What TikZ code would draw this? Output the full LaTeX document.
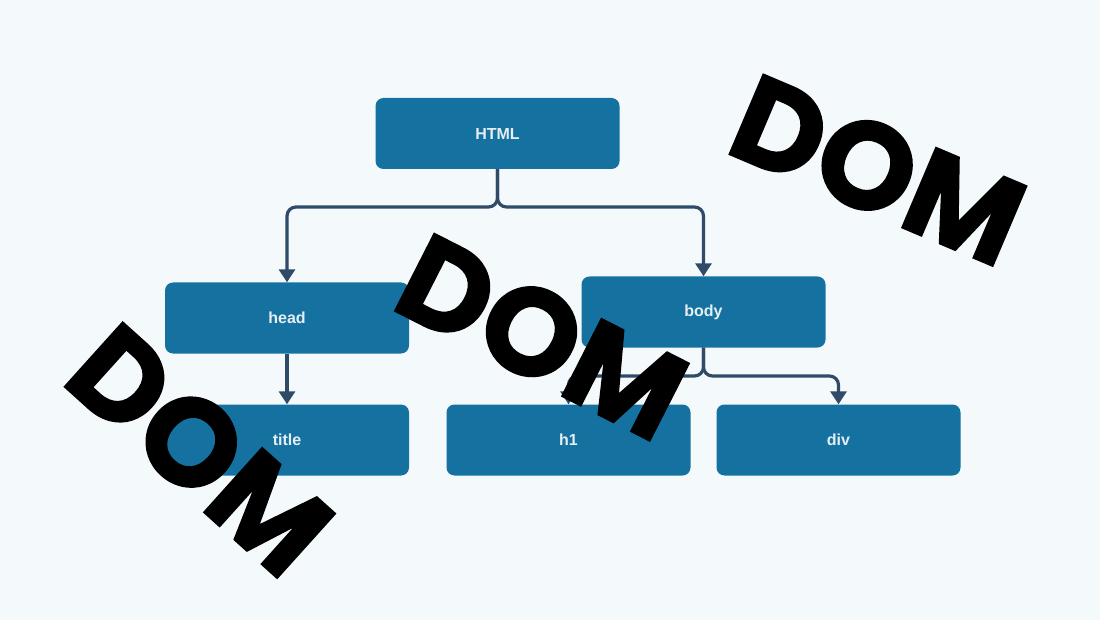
\documentclass[tikz,border=0pt]{standalone}
\usepackage{fontspec}
\setmainfont{Liberation Sans}
\newfontfamily\domfont{Poppins}[FakeBold=1.2]
\usetikzlibrary{arrows.meta}
\definecolor{bg}{HTML}{F4F9FC}
\definecolor{boxblue}{HTML}{1572A0}
\definecolor{conncol}{HTML}{2F4B68}
\definecolor{boxtext}{HTML}{E6EEF3}
\tikzset{
  treebox/.style={draw=none, fill=boxblue, rounded corners=8pt, minimum width=244pt, minimum height=71pt, inner sep=0pt, text=boxtext, font=\bfseries\fontsize{16}{18}\selectfont},
  conn/.style={draw=conncol, line width=3.2pt, rounded corners=9pt, -{Triangle[width=16pt,length=13pt]}},
  domlabel/.style={font=\domfont\bfseries\fontsize{124}{126}\selectfont, text=black, inner sep=0pt}
}
\begin{document}
\begin{tikzpicture}[x=1pt,y=-1pt]
\fill[bg] (0,0) rectangle (1100,620);
\useasboundingbox (0,0) rectangle (1100,620);
\node[treebox] (html) at (497.5,133.5) {HTML};
\node[treebox] (head) at (287,318) {head};
\node[treebox] (body) at (703.5,312) {body};
\node[treebox] (title) at (287,440) {title};
\node[treebox] (h1) at (568.5,440) {h1};
\node[treebox] (div) at (838.5,440) {div};
\coordinate (split1) at (497.5,207);
\coordinate (split2) at (703.5,376);
\draw[conn] (html.south) -- (split1) -| (head.north);
\draw[conn] (html.south) -- (split1) -| (body.north);
\draw[conn] (head.south) -- (title.north);
\draw[conn] (body.south) -- (split2) -| (h1.north);
\draw[conn] (body.south) -- (split2) -| (div.north);
\node[domlabel, rotate=-23] (dom1) at (878,170) {DOM};
\node[domlabel, rotate=-27] (dom2) at (542,337) {DOM};
\node[domlabel, rotate=-42] (dom3) at (200,450) {DOM};
\end{tikzpicture}
\end{document}
